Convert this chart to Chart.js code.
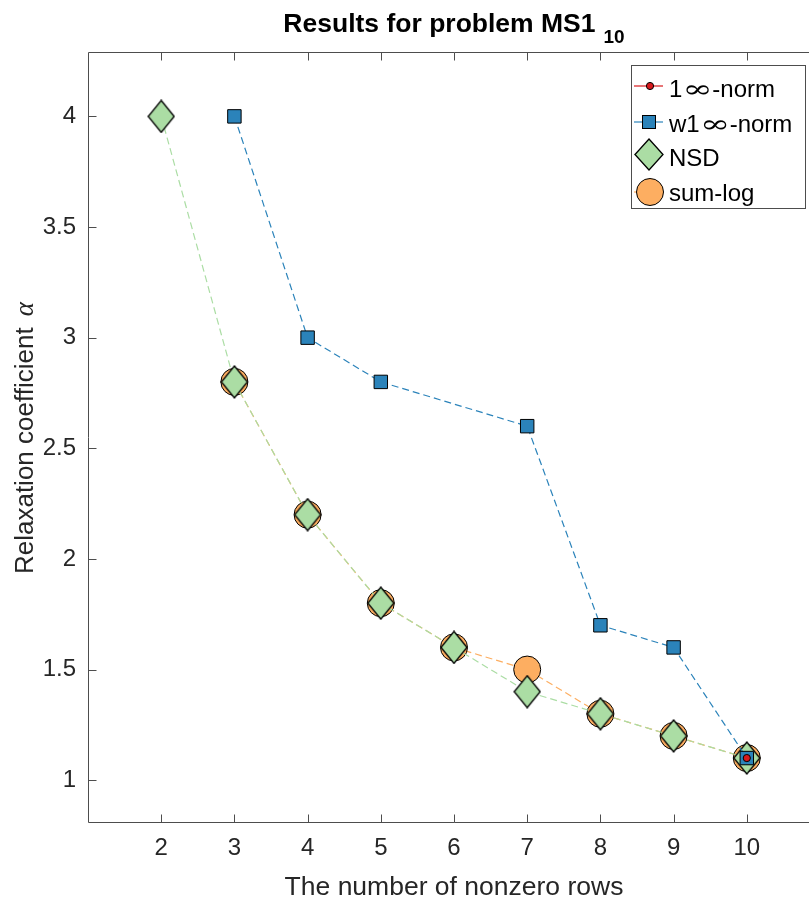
<!DOCTYPE html>
<html>
<head>
<meta charset="utf-8">
<title>Results for problem MS1_10</title>
<script src="https://cdn.jsdelivr.net/npm/chart.js@4.4.0/dist/chart.umd.min.js"></script>
<style>
  html, body { margin: 0; padding: 0; background: #fff; overflow: hidden; }
  #wrap { width: 830px; height: 899px; }
</style>
</head>
<body>
<div id="wrap"><canvas id="chart" width="830" height="899"></canvas></div>
<script>
// ---- values ----
const rows = [2, 3, 4, 5, 6, 7, 8, 9, 10];
const norm1Inf  = [null, null, null, null, null, null, null, null, 1.1];
const normW1Inf = [null, 4, 3, 2.8, null, 2.6, 1.7, 1.6, 1.1];
const nsd       = [4, 2.8, 2.2, 1.8, 1.6, 1.4, 1.3, 1.2, 1.1];
const sumLog    = [null, 2.8, 2.2, 1.8, 1.6, 1.5, 1.3, 1.2, 1.1];
const xTicks = [2, 3, 4, 5, 6, 7, 8, 9, 10];
const yTicks = [1, 1.5, 2, 2.5, 3, 3.5, 4];
const seriesNames = ['1\u221E-norm', 'w1\u221E-norm', 'NSD', 'sum-log'];

// ---- look ----
const FONT = "'Liberation Sans', Arial, Helvetica, sans-serif";
const TEXT = '#262626';
const AXIS = '#4d4d4d';
const RED = '#d7191c', BLUE = '#2b83ba', GREEN = '#abdda4', ORANGE = '#fdae61';
const DASH = [7, 4];

const toPoints = vals => rows.map((x, i) => ({ x, y: vals[i] })).filter(p => p.y !== null);

function makeDiamond(w, h) {
    const c = document.createElement('canvas');
    c.width = w + 2;
    c.height = h + 2;
    const g = c.getContext('2d');
    g.beginPath();
    g.moveTo(c.width / 2, 1);
    g.lineTo(c.width - 1, c.height / 2);
    g.lineTo(c.width / 2, c.height - 1);
    g.lineTo(1, c.height / 2);
    g.closePath();
    g.fillStyle = GREEN;
    g.fill();
    g.lineWidth = 1.3;
    g.strokeStyle = '#000';
    g.stroke();
    return c;
}
const diamond = makeDiamond(26, 32);
const legendDiamond = makeDiamond(28, 31);

// legend text, with a wide TeX-like infinity sign
function drawLegendText(ctx, text, x, y) {
    let cx = x;
    text.split('\u221E').forEach((part, i) => {
        if (i > 0) {
            ctx.save();
            ctx.font = "24px 'DejaVu Serif', serif";
            const w = ctx.measureText('\u221E').width;
            ctx.translate(cx, y);
            ctx.scale(30 / w, 1);
            ctx.fillText('\u221E', 0, 0);
            ctx.restore();
            cx += 30;
        }
        ctx.font = `24px ${FONT}`;
        ctx.fillText(part, cx, y);
        cx += ctx.measureText(part).width;
    });
}

// axes box, inward ticks, title, axis labels and the legend
const matlabLook = {
    id: 'matlabLook',
    beforeDatasetsDraw(chart) {
        const { ctx, chartArea: a, scales: { x, y } } = chart;
        ctx.save();
        ctx.strokeStyle = AXIS;
        ctx.lineWidth = 1;
        ctx.beginPath();
        const L = Math.round(a.left) + 0.5, R = Math.round(a.right) + 0.5;
        const T = Math.round(a.top) + 0.5, B = Math.round(a.bottom) + 0.5;
        ctx.rect(L, T, R - L, B - T);
        xTicks.forEach(v => {
            const px = Math.round(x.getPixelForValue(v)) + 0.5;
            ctx.moveTo(px, B); ctx.lineTo(px, B - 8);
            ctx.moveTo(px, T); ctx.lineTo(px, T + 8);
        });
        yTicks.forEach(v => {
            const py = Math.round(y.getPixelForValue(v)) + 0.5;
            ctx.moveTo(L, py); ctx.lineTo(L + 8, py);
            ctx.moveTo(R, py); ctx.lineTo(R - 8, py);
        });
        ctx.stroke();
        ctx.restore();
    },
    afterDraw(chart) {
        const { ctx, chartArea: a } = chart;
        const cx = (a.left + a.right) / 2;
        ctx.save();

        // title with subscript
        ctx.fillStyle = '#000';
        ctx.textBaseline = 'alphabetic';
        ctx.textAlign = 'left';
        const main = 'Results for problem MS1';
        ctx.font = `bold 26.5px ${FONT}`;
        const w1 = ctx.measureText(main).width;
        ctx.font = `bold 19px ${FONT}`;
        const w2 = ctx.measureText('10').width;
        const gap = 8;
        const x0 = cx - (w1 + gap + w2) / 2;
        ctx.font = `bold 26.5px ${FONT}`;
        ctx.fillText(main, x0, 32);
        ctx.font = `bold 19px ${FONT}`;
        ctx.fillText('10', x0 + w1 + gap, 43);

        // x label
        ctx.fillStyle = TEXT;
        ctx.font = `26.5px ${FONT}`;
        ctx.textAlign = 'center';
        ctx.fillText('The number of nonzero rows', cx, 895);

        // y label with italic alpha
        ctx.save();
        ctx.translate(33, 438);
        ctx.rotate(-Math.PI / 2);
        ctx.textAlign = 'left';
        const yl = 'Relaxation coefficient ';
        ctx.font = `26px ${FONT}`;
        const wl = ctx.measureText(yl).width;
        ctx.font = `italic 27px 'Liberation Serif', 'DejaVu Serif', serif`;
        const wa = ctx.measureText('\u03B1').width;
        const s = -(wl + 4 + wa) / 2;
        ctx.font = `26px ${FONT}`;
        ctx.fillText(yl, s, 0);
        ctx.font = `italic 27px 'Liberation Serif', 'DejaVu Serif', serif`;
        ctx.fillText('\u03B1', s + wl + 4, 0);
        ctx.restore();

        // legend box
        ctx.fillStyle = '#fff';
        ctx.fillRect(631, 65, 174, 143);
        ctx.strokeStyle = AXIS;
        ctx.lineWidth = 1;
        ctx.strokeRect(631.5, 65.5, 174, 143);

        const mx = 649, lx0 = 634, lx1 = 663, tx = 669;
        const rowsY = [86, 122, 154.5, 192];
        const baseY = [97, 131.5, 166, 200.5];
        const colors = [RED, BLUE, GREEN, ORANGE];
        rowsY.forEach((ry, i) => {
            ctx.strokeStyle = colors[i];
            ctx.lineWidth = 1.2;
            ctx.beginPath();
            ctx.moveTo(lx0, ry); ctx.lineTo(lx1, ry);
            ctx.stroke();
        });
        ctx.lineWidth = 1;
        ctx.strokeStyle = '#000';
        // 1inf-norm marker
        ctx.fillStyle = RED;
        ctx.beginPath(); ctx.arc(mx + 1, rowsY[0], 3.6, 0, Math.PI * 2); ctx.fill(); ctx.stroke();
        // w1inf-norm marker
        ctx.fillStyle = BLUE;
        ctx.fillRect(mx - 6.5, rowsY[1] - 6.5, 13, 13);
        ctx.strokeRect(mx - 6.5, rowsY[1] - 6.5, 13, 13);
        // NSD marker
        ctx.drawImage(legendDiamond, mx - legendDiamond.width / 2, rowsY[2] - legendDiamond.height / 2);
        // sum-log marker
        ctx.fillStyle = ORANGE;
        ctx.beginPath(); ctx.arc(mx + 1, rowsY[3], 13.5, 0, Math.PI * 2); ctx.fill(); ctx.stroke();

        ctx.fillStyle = '#000';
        ctx.textAlign = 'left';
        seriesNames.forEach((name, i) => drawLegendText(ctx, name, tx, baseY[i]));

        ctx.restore();
    }
};

const tickFont = { family: FONT, size: 24 };

new Chart(document.getElementById('chart'), {
    type: 'line',
    data: {
        datasets: [
            {
                label: seriesNames[0],
                data: toPoints(norm1Inf),
                borderColor: RED,
                backgroundColor: RED,
                borderWidth: 1.2,
                borderDash: DASH,
                pointStyle: 'circle',
                pointRadius: 3.6,
                pointBackgroundColor: RED,
                pointBorderColor: '#000',
                pointBorderWidth: 1
            },
            {
                label: seriesNames[1],
                data: toPoints(normW1Inf),
                borderColor: BLUE,
                backgroundColor: BLUE,
                borderWidth: 1.2,
                borderDash: DASH,
                pointStyle: 'rect',
                pointRadius: 9.5,
                pointBackgroundColor: BLUE,
                pointBorderColor: '#000',
                pointBorderWidth: 1
            },
            {
                label: seriesNames[2],
                data: toPoints(nsd),
                borderColor: GREEN,
                backgroundColor: GREEN,
                borderWidth: 1.2,
                borderDash: DASH,
                pointStyle: diamond,
                pointRadius: 16
            },
            {
                label: seriesNames[3],
                data: toPoints(sumLog),
                borderColor: ORANGE,
                backgroundColor: ORANGE,
                borderWidth: 1.2,
                borderDash: DASH,
                pointStyle: 'circle',
                pointRadius: 13.5,
                pointBackgroundColor: ORANGE,
                pointBorderColor: '#000',
                pointBorderWidth: 1
            }
        ]
    },
    options: {
        responsive: false,
        animation: false,
        events: [],
        layout: { autoPadding: false, padding: { left: 0, top: 52, right: 10, bottom: 0 } },
        elements: { line: { tension: 0, fill: false } },
        plugins: {
            legend: { display: false },
            title: { display: false },
            tooltip: { enabled: false }
        },
        scales: {
            x: {
                type: 'linear',
                min: 1,
                max: 11,
                grid: { display: false, drawTicks: false },
                border: { display: false },
                afterBuildTicks: s => { s.ticks = xTicks.map(v => ({ value: v })); },
                afterFit: s => { s.height = 77; s.paddingLeft = 0; s.paddingRight = 0; },
                ticks: { font: tickFont, color: TEXT, padding: 12, autoSkip: false, maxRotation: 0,
                         callback: v => String(v) }
            },
            y: {
                type: 'linear',
                min: 0.811,
                max: 4.291,
                grid: { display: false, drawTicks: false },
                border: { display: false },
                afterBuildTicks: s => { s.ticks = yTicks.map(v => ({ value: v })); },
                afterFit: s => { s.width = 88; s.paddingTop = 0; s.paddingBottom = 0; },
                ticks: { font: tickFont, color: TEXT, padding: 12, callback: v => String(v) }
            }
        }
    },
    plugins: [matlabLook]
});
</script>
</body>
</html>
